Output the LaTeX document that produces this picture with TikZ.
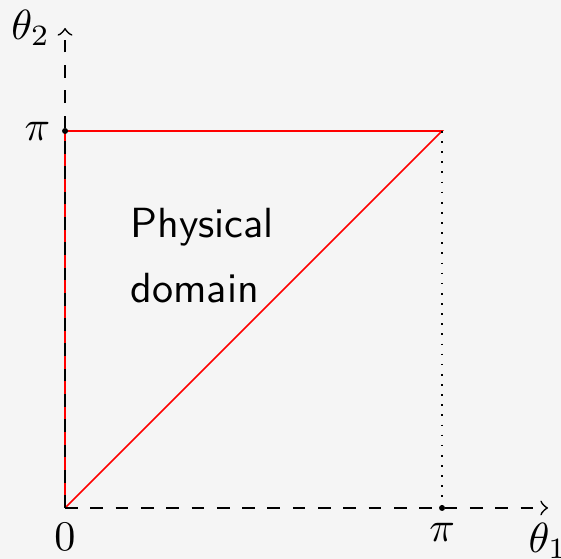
\documentclass[tikz,border=0pt]{standalone}
\usepackage{amsmath,amssymb}
\usepackage{tikz}
\usepackage{xcolor}
\definecolor{bgcol}{HTML}{F5F5F5}

\begin{document}
\begin{tikzpicture}
\useasboundingbox[fill=bgcol] (-0.542,-0.425) rectangle (4.133,4.233);
\coordinate[label=below:{$0$}] (o) at (0,0);
\coordinate[label=below:{$\pi$}] (a) at (3.1416,0);
\coordinate[label=left:{$\pi$}] (b) at (0,3.1416);
\coordinate (c) at (3.1416,3.1416);
\coordinate[label=below:{$\theta_1$}] (xend) at (4.025,0);
\coordinate[label=left:{$\theta_2$}] (yend) at (0,4);
\draw[red] (o)--(b)--(c)--(o);
\draw[dotted] (c)--(a);
\draw[dashed,->] (o)--(xend);
\draw[dashed,->] (o)--(yend);
\foreach \p in {a,b}{
\fill (\p) circle (.025cm);
}
\node[font=\sffamily,align=left,anchor=north west] (dom) at (0.42,2.625) {Physical\\[3.4pt]domain};
\end{tikzpicture}
\end{document}
